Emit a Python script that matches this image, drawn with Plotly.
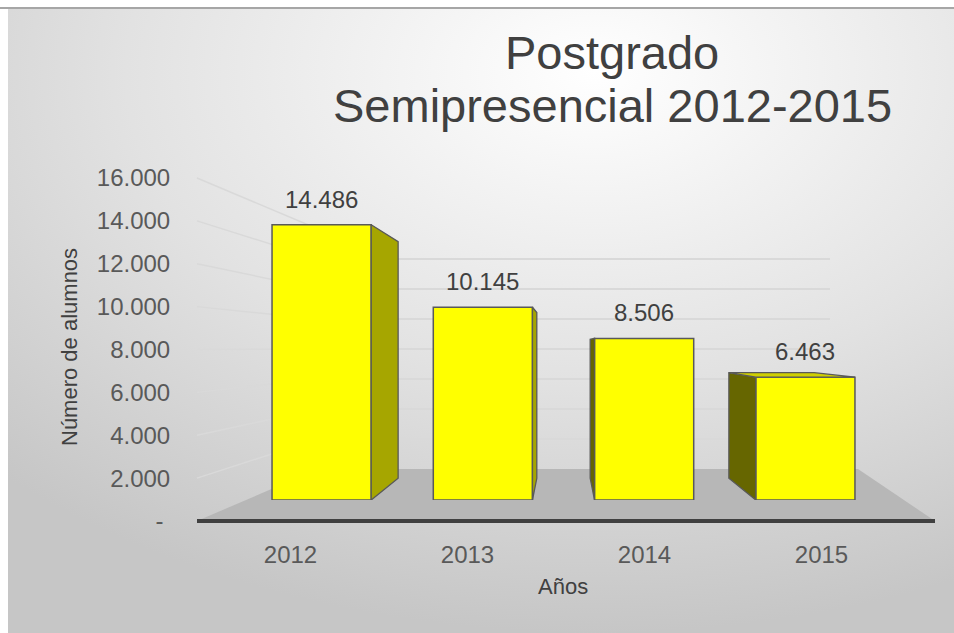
import base64
import plotly.graph_objects as go

# ---------------- data ----------------
years = ["2012", "2013", "2014", "2015"]
alumnos = [14486, 10145, 8506, 6463]
ytick_vals = [0, 2000, 4000, 6000, 8000, 10000, 12000, 14000, 16000]
ytick_text = ["-\u00a0", "2.000", "4.000", "6.000", "8.000", "10.000", "12.000", "14.000", "16.000"]
title_lines = ["Postgrado", "Semipresencial 2012-2015"]
x_title = "Años"
y_title = "Número de alumnos"

# ---------------- layout helpers ----------------
W, H = 954, 633
Y_MAX = 16000


def px(xp):
    return xp / W


def py(yp):
    return 1 - yp / H


# vertical pixel positions of value 0 and Y_MAX for each plane
TICK_AX = (521, 178)      # labelled axis (front-left edge)
BAR_AX = (500, 196)       # plane of bar fronts
WALL_AX = (469, 229)      # back wall
X_LABEL_DOM = (202, 910)
X_BAR_DOM = (241, 886)
X_WALL_DOM = (318, 830)
AXIS_X = 197
FLOOR_RIGHT = (935, 858)

FONT = "Liberation Sans, Arial, sans-serif"
TXT = "#404040"
TICK = "#595959"


def val_to_py(v, ax):
    return ax[0] - (ax[0] - ax[1]) * v / Y_MAX


fig = go.Figure()

# invisible trace to set up the label axis (x / y)
fig.add_trace(go.Scatter(x=years, y=[None] * len(years), xaxis="x", yaxis="y",
                         mode="markers", showlegend=False, hoverinfo="skip"))
# invisible trace for the back wall axis (x2 / y2), drawn beneath the bars
fig.add_trace(go.Scatter(x=[0, 1], y=[None, None], xaxis="x2", yaxis="y2",
                         mode="markers", showlegend=False, hoverinfo="skip"))

# ---------- 3D faces for bars (x3 / y3) ----------
half = 0.3075
vp_x, vp_y, k = 1.5, 8158, 0.14
for i, v in enumerate(alumnos):
    left, right = i - half, i + half
    if i < vp_x:
        ex, col = right, "#A6A600"
    else:
        ex, col = left, "#666600"
    bx = ex + (vp_x - ex) * k
    top_b = v + (vp_y - v) * k
    bot_b = vp_y * k
    fig.add_trace(go.Scatter(
        x=[ex, ex, bx, bx, ex], y=[0, v, top_b, bot_b, 0],
        xaxis="x3", yaxis="y3", mode="lines", fill="toself",
        fillcolor=col, line=dict(color="#595959", width=1.3),
        hoverinfo="skip", showlegend=False))
    if v < vp_y:
        lb = left + (vp_x - left) * k
        rb = right + (vp_x - right) * k
        fig.add_trace(go.Scatter(
            x=[left, right, rb, lb, left], y=[v, v, top_b, top_b, v],
            xaxis="x3", yaxis="y3", mode="lines", fill="toself",
            fillcolor="#CFCF00", line=dict(color="#595959", width=1.3),
            hoverinfo="skip", showlegend=False))

# ---------- front faces (bars) ----------
fig.add_trace(go.Bar(
    x=list(range(len(years))), y=alumnos, xaxis="x3", yaxis="y3",
    width=2 * half, marker=dict(color="#FFFF00", line=dict(color="#595959", width=1.5)),
    hovertemplate="%{y}<extra></extra>", showlegend=False))

# ---------- data labels ----------
annotations = []
for i, v in enumerate(alumnos):
    annotations.append(dict(
        x=i, y=v, xref="x3", yref="y3", text=f"{v:,}".replace(",", "."),
        showarrow=False, yanchor="bottom", yshift=10,
        font=dict(family=FONT, size=24, color=TXT)))

# title lines
annotations.append(dict(x=px(612), y=py(52), xref="paper", yref="paper", text=title_lines[0],
                        showarrow=False, xanchor="center", yanchor="middle",
                        font=dict(family=FONT, size=47, color=TXT)))
annotations.append(dict(x=px(612), y=py(105), xref="paper", yref="paper", text=title_lines[1],
                        showarrow=False, xanchor="center", yanchor="middle",
                        font=dict(family=FONT, size=47, color=TXT)))
# axis titles
annotations.append(dict(x=px(69), y=py(347), xref="paper", yref="paper", text=y_title,
                        textangle=-90, showarrow=False, xanchor="center", yanchor="middle",
                        font=dict(family=FONT, size=22, color=TXT)))
annotations.append(dict(x=px(563), y=py(586), xref="paper", yref="paper", text=x_title,
                        showarrow=False, xanchor="center", yanchor="middle",
                        font=dict(family=FONT, size=22, color=TXT)))

# ---------- decoration shapes ----------
shapes = []
# floor
fl = [(AXIS_X, TICK_AX[0]), (FLOOR_RIGHT[0], TICK_AX[0]), (FLOOR_RIGHT[1], WALL_AX[0]),
      (X_WALL_DOM[0], WALL_AX[0])]
path = "M " + " L ".join(f"{px(a)},{py(b)}" for a, b in fl) + " Z"
shapes.append(dict(type="path", path=path, xref="paper", yref="paper",
                   fillcolor="#B7B7B7", line=dict(width=0), layer="below"))
# side-wall grid lines
for t in ytick_vals[1:]:
    shapes.append(dict(type="line", xref="paper", yref="paper",
                       x0=px(AXIS_X), y0=py(val_to_py(t, TICK_AX)),
                       x1=px(X_WALL_DOM[0]), y1=py(val_to_py(t, WALL_AX)),
                       line=dict(color="#D9D9D9", width=1.5), layer="below"))
# front dark edge
shapes.append(dict(type="line", xref="paper", yref="paper",
                   x0=px(AXIS_X), y0=py(TICK_AX[0]), x1=px(FLOOR_RIGHT[0]), y1=py(TICK_AX[0]),
                   line=dict(color="#404040", width=4), layer="above"))
# top frame line
shapes.append(dict(type="line", xref="paper", yref="paper",
                   x0=0, y0=py(8), x1=1, y1=py(8),
                   line=dict(color="#A6A6A6", width=2), layer="above"))

# background gradient
bw, bh = W - 8, H - 9
svg = (f'<svg xmlns="http://www.w3.org/2000/svg" width="{bw}" height="{bh}">'
       '<defs><radialGradient id="g" cx="0.62" cy="0.1" r="0.9">'
       '<stop offset="0" stop-color="#FFFFFF"/><stop offset="0.55" stop-color="#E2E2E2"/>'
       '<stop offset="1" stop-color="#C6C6C6"/></radialGradient></defs>'
       f'<rect width="{bw}" height="{bh}" fill="url(#g)"/></svg>')
src = "data:image/svg+xml;base64," + base64.b64encode(svg.encode()).decode()

fig.update_layout(
    width=W, height=H, margin=dict(l=0, r=0, t=0, b=0, autoexpand=False),
    paper_bgcolor="white", plot_bgcolor="rgba(0,0,0,0)",
    showlegend=False,
    images=[dict(source=src, xref="paper", yref="paper", x=px(8), y=1 - 9 / H,
                 sizex=1 - px(8), sizey=1 - 9 / H, xanchor="left", yanchor="top",
                 sizing="stretch", layer="below")],
    xaxis=dict(domain=[px(X_LABEL_DOM[0]), px(X_LABEL_DOM[1])], anchor="y",
               type="category", range=[-0.5, 3.5], showgrid=False, zeroline=False,
               showline=False, ticks="outside", ticklen=12, tickcolor="rgba(0,0,0,0)",
               tickfont=dict(family=FONT, size=24, color=TICK), fixedrange=True,
               automargin=False),
    yaxis=dict(domain=[py(TICK_AX[0]), py(TICK_AX[1])], range=[0, Y_MAX],
               anchor="free", position=px(AXIS_X), showgrid=False, zeroline=False,
               showline=False, tickvals=ytick_vals, ticktext=ytick_text,
               ticks="outside", ticklen=22, tickcolor="rgba(0,0,0,0)",
               tickfont=dict(family=FONT, size=24, color=TICK), fixedrange=True,
               automargin=False),
    # back wall
    xaxis2=dict(domain=[px(X_WALL_DOM[0]), px(X_WALL_DOM[1])], anchor="y2",
                range=[0, 1], showgrid=False, zeroline=False, showticklabels=False,
                ticks="", showline=False, fixedrange=True, automargin=False),
    yaxis2=dict(domain=[py(WALL_AX[0]), py(WALL_AX[1])], anchor="x2",
                range=[0, Y_MAX], dtick=2000, showgrid=True, gridcolor="#D9D9D9",
                gridwidth=1.5, zeroline=False, showticklabels=False, ticks="",
                showline=False, fixedrange=True, automargin=False),
    # bars
    xaxis3=dict(domain=[px(X_BAR_DOM[0]), px(X_BAR_DOM[1])], anchor="y3",
                range=[-0.5, 3.5], visible=False, fixedrange=True, automargin=False),
    yaxis3=dict(domain=[py(BAR_AX[0]), py(BAR_AX[1])], anchor="x3",
                range=[0, Y_MAX], visible=False, fixedrange=True, automargin=False),
    annotations=annotations, shapes=shapes,
)

fig.write_html("out.html", config={"displayModeBar": False},
               post_script="document.body.style.margin='0';document.body.style.overflow='hidden';")
